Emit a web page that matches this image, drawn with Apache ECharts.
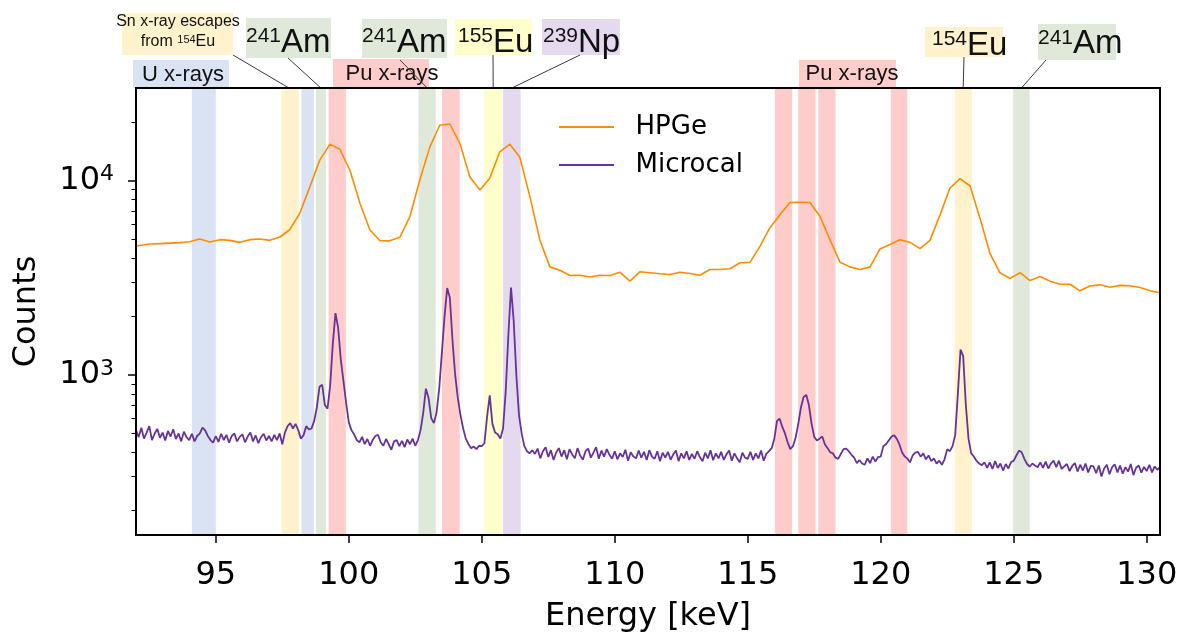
<!DOCTYPE html>
<html>
<head>
<meta charset="utf-8">
<title>HPGe vs Microcal</title>
<script src="https://cdn.jsdelivr.net/npm/echarts@6.0.0/dist/echarts.min.js"></script>
<style>
  html, body { margin: 0; padding: 0; background: #fff; }
  #chart { width: 1179px; height: 634px; }
</style>
</head>
<body>
<div id="chart"></div>
<script>
// values
const hpgeKeV = [
  91.77, 92.14, 92.52, 92.89, 93.27, 93.65, 94.02, 94.40, 94.77, 95.15,
  95.53, 95.90, 96.28, 96.65, 97.03, 97.41, 97.78, 98.16, 98.54, 98.91,
  99.29, 99.66, 100.04, 100.42, 100.79, 101.17, 101.54, 101.92, 102.30, 102.67,
  103.05, 103.42, 103.80, 104.18, 104.55, 104.93, 105.30, 105.68, 106.06, 106.43,
  106.81, 107.18, 107.56, 107.94, 108.31, 108.69, 109.07, 109.44, 109.82, 110.19,
  110.57, 110.95, 111.32, 111.70, 112.07, 112.45, 112.83, 113.20, 113.58, 113.95,
  114.33, 114.71, 115.08, 115.46, 115.83, 116.21, 116.59, 116.96, 117.34, 117.72,
  118.09, 118.47, 118.84, 119.22, 119.60, 119.97, 120.35, 120.72, 121.10, 121.48,
  121.85, 122.23, 122.60, 122.98, 123.36, 123.73, 124.11, 124.48, 124.86, 125.24,
  125.61, 125.99, 126.36, 126.74, 127.12, 127.49, 127.87, 128.25, 128.62, 129.00,
  129.37, 129.75, 130.13, 130.50
]
const hpgeCounts = [
  4550, 4640, 4725, 4740, 4770, 4800, 4850, 5010, 4840, 4970,
  4930, 4815, 4970, 5010, 4930, 5130, 5590, 6810, 9320, 12760,
  15420, 14530, 11350, 7660, 5590, 4910, 4900, 5110, 6540, 10080,
  14930, 19290, 19580, 15540, 10480, 8960, 10290, 14080, 15420, 13200,
  8280, 4970, 3600, 3460, 3250, 3260, 3190, 3260, 3250, 3380,
  3040, 3400, 3360, 3320, 3290, 3380, 3330, 3260, 3490, 3490,
  3520, 3780, 3800, 4590, 5710, 6670, 7720, 7750, 7720, 6540,
  4970, 3800, 3600, 3490, 3600, 4450, 4690, 4970, 4815, 4470,
  4930, 6670, 9140, 10240, 9390, 6420, 4210, 3360, 3140, 3360,
  3060, 3210, 3040, 2930, 2930, 2710, 2870, 2910, 2830, 2890,
  2880, 2820, 2710, 2650
]

// microcal spectrum, 0.1 keV bins starting at 92.0 keV (one row per keV)
const microcalStart = 92.0
const microcalStep = 0.1
const microcalCounts = [
  520, 478, 535, 470, 505, 545, 462, 498, 528, 475,   // 92
  505, 460, 515, 482, 525, 468, 500, 455, 510, 478,   // 93
  462, 498, 455, 485, 500, 535, 518, 485, 462, 448,   // 94
  485, 452, 498, 462, 492, 448, 485, 500, 455, 480,   // 95
  495, 450, 482, 505, 455, 488, 445, 478, 498, 460,   // 96
  485, 455, 492, 462, 500, 440, 505, 545, 565, 530,   // 97
  560, 520, 470, 490, 545, 525, 530, 580, 680, 870,   // 98
  890, 700, 670, 880, 1450, 2080, 1750, 1200, 930, 720, // 99
  570, 520, 495, 462, 450, 480, 440, 468, 432, 462,   // 100
  485, 492, 450, 432, 468, 440, 412, 455, 462, 430,   // 101
  458, 425, 465, 440, 470, 432, 462, 520, 640, 850,   // 102
  760, 600, 565, 640, 850, 1300, 2000, 2800, 2500, 1500, // 103
  1000, 760, 620, 530, 470, 440, 420, 428, 415, 432,  // 104
  430, 445, 610, 785, 560, 505, 495, 470, 530, 820,   // 105
  1600, 2820, 1900, 1000, 620, 500, 430, 405, 395, 410, // 106
  392, 418, 372, 405, 425, 378, 410, 365, 400, 420,   // 107
  380, 410, 368, 415, 390, 372, 420, 385, 366, 405,   // 108
  418, 375, 398, 425, 370, 408, 380, 415, 388, 370,   // 109
  405, 368, 395, 378, 412, 362, 400, 380, 372, 408,   // 110
  375, 402, 365, 410, 380, 370, 405, 360, 398, 375,   // 111
  402, 366, 390, 408, 360, 395, 372, 405, 365, 392,   // 112
  370, 405, 378, 360, 398, 372, 410, 364, 395, 372,   // 113
  402, 365, 390, 408, 362, 395, 372, 355, 398, 375,   // 114
  370, 402, 365, 395, 372, 408, 362, 392, 405, 420,   // 115
  470, 580, 595, 540, 500, 450, 415, 430, 475, 560,   // 116
  680, 770, 790, 700, 560, 480, 460, 470, 482, 440,   // 117
  420, 400, 395, 375, 370, 392, 415, 418, 405, 388,   // 118
  375, 352, 365, 350, 345, 372, 352, 380, 358, 378,   // 119
  380, 430, 440, 460, 480, 490, 470, 440, 400, 380,   // 120
  372, 355, 385, 398, 402, 380, 395, 368, 385, 360,   // 121
  372, 350, 362, 345, 368, 415, 405, 430, 490, 800,   // 122
  1350, 1250, 700, 470, 396, 380, 362, 350, 343, 355, // 123
  332, 355, 328, 360, 332, 350, 322, 348, 330, 356,   // 124
  362, 385, 408, 400, 370, 348, 337, 350, 342, 335,   // 125
  355, 332, 358, 330, 350, 362, 335, 362, 328, 338,   // 126
  348, 320, 340, 352, 318, 345, 322, 350, 315, 340,   // 127
  338, 312, 342, 300, 330, 345, 308, 335, 346, 315,   // 128
  342, 310, 335, 318, 348, 305, 333, 342, 314, 336,   // 129
  320, 345, 315, 338, 325, 335                        // 130
]

const xTicks = [95, 100, 105, 110, 115, 120, 125, 130]
const yMajor = [1000, 10000]
const yMinor = [200, 300, 400, 500, 600, 700, 800, 900,
                2000, 3000, 4000, 5000, 6000, 7000, 8000, 9000, 20000]

// shaded energy bands [from, to, kind]
const bands = [
  [94.10, 95.00, 'U'], [97.47, 98.13, 'Sn'], [98.22, 98.69, 'U'],
  [98.76, 99.14, 'Am'], [99.24, 99.89, 'Pu'], [102.62, 103.27, 'Am'],
  [103.50, 104.17, 'Pu'], [105.09, 105.77, 'Eu155'], [105.80, 106.46, 'Np'],
  [116.02, 116.67, 'Pu'], [116.90, 117.55, 'Pu'], [117.65, 118.30, 'Pu'],
  [120.38, 121.00, 'Pu'], [122.78, 123.42, 'Eu154'], [124.98, 125.60, 'Am']
]

const bandColors = {
  U: '#dae3f3', Sn: '#fff2cc', Am: '#e0e8da', Pu: '#ffcccc',
  Eu155: '#ffffcc', Np: '#e4d9ef', Eu154: '#fff2cc'
}

const xMin = 92, xMax = 130.5
const yMin = 150, yMax = 30000

const grid = { left: 136, top: 88, right: 19, bottom: 99 }
const axisFont = 'DejaVu Sans'
const noteFont = 'Liberation Sans'

const chart = echarts.init(document.getElementById('chart'))

const hpgeData = hpgeKeV.map((e, i) => [e, hpgeCounts[i]])
const microcalData = microcalCounts.map((c, i) => [+(microcalStart + i * microcalStep).toFixed(2), c])

const logMin = Math.log10(yMin)
const logMax = Math.log10(yMax)

const tickLine = { color: '#000', width: 1.5 }

const option = {
  animation: false,
  backgroundColor: '#fff',
  grid: { left: grid.left, top: grid.top, right: grid.right, bottom: grid.bottom, containLabel: false, outerBoundsMode: 'none' },
  legend: {
    data: ['HPGe', 'Microcal'],
    orient: 'vertical',
    left: 554,
    top: 109,
    icon: 'rect',
    itemWidth: 55,
    itemHeight: 2,
    itemGap: 12,
    formatter: name => '  ' + name,
    textStyle: { fontSize: 26, fontFamily: axisFont, color: '#000', lineHeight: 26 }
  },
  xAxis: {
    type: 'value',
    min: xMin,
    max: xMax,
    axisLine: { show: false },
    splitLine: { show: false },
    axisTick: { show: true, customValues: xTicks, length: 8, lineStyle: tickLine },
    axisLabel: { customValues: xTicks, fontSize: 32, fontFamily: axisFont, color: '#000', margin: 25 },
    name: 'Energy [keV]',
    nameLocation: 'middle',
    nameGap: 66,
    nameTextStyle: { fontSize: 32, fontFamily: axisFont, color: '#000' }
  },
  yAxis: [
    {
      type: 'log', logBase: 10, min: yMin, max: yMax, position: 'left',
      axisLine: { show: false }, axisTick: { show: false },
      axisLabel: { show: false }, splitLine: { show: false }
    },
    {
      type: 'value', min: logMin, max: logMax, position: 'left',
      axisLine: { show: false }, splitLine: { show: false },
      axisTick: { show: true, customValues: yMajor.map(Math.log10), length: 8, lineStyle: tickLine },
      axisLabel: {
        customValues: yMajor.map(Math.log10),
        margin: 22,
        formatter: v => '{b|10}{s|' + Math.round(v) + '}',
        rich: {
          b: { fontSize: 32, fontFamily: axisFont, color: '#000', lineHeight: 34 },
          s: { fontSize: 22, fontFamily: axisFont, color: '#000', lineHeight: 22, verticalAlign: 'top' }
        }
      },
      name: 'Counts',
      nameLocation: 'middle',
      nameGap: 93,
      nameTextStyle: { fontSize: 32, fontFamily: axisFont, color: '#000' }
    },
    {
      type: 'value', min: logMin, max: logMax, position: 'left',
      axisLine: { show: false }, splitLine: { show: false },
      axisTick: { show: true, customValues: yMinor.map(Math.log10), length: 4.5, lineStyle: { color: '#000', width: 1 } },
      axisLabel: { show: false }
    }
  ],
  series: [
    {
      name: 'HPGe',
      type: 'line',
      data: hpgeData,
      yAxisIndex: 0,
      symbol: 'none',
      z: 3,
      color: '#ff8c00',
      lineStyle: { color: '#ff8c00', width: 1.6 },
      markArea: {
        silent: true,
        label: { show: false },
        itemStyle: { opacity: 1 },
        data: bands.map(b => [{ xAxis: b[0], itemStyle: { color: bandColors[b[2]] } }, { xAxis: b[1] }])
      }
    },
    {
      name: 'Microcal',
      type: 'line',
      data: microcalData,
      yAxisIndex: 0,
      symbol: 'none',
      z: 4,
      color: '#663399',
      lineStyle: { color: '#663399', width: 1.8 }
    }
  ]
}

chart.setOption(option)

// annotation boxes above the plot
const ink = '#111'
function box(x, y, w, h, fill) {
  return { type: 'rect', shape: { x: x, y: y, width: w, height: h }, style: { fill: fill }, z: 10 }
}
function plain(text, x, y, size) {
  return {
    type: 'text', z: 12,
    style: { text: text, x: x, y: y, fontSize: size, fontFamily: noteFont, fill: ink, align: 'center', verticalAlign: 'middle' }
  }
}
function isotope(sup, main, x, y) {
  return {
    type: 'text', z: 12,
    style: {
      text: '{s|' + sup + '}{m|' + main + '}', x: x, y: y, align: 'left', verticalAlign: 'top',
      rich: {
        s: { fontSize: 21, fontFamily: noteFont, fill: ink, lineHeight: 21, verticalAlign: 'top' },
        m: { fontSize: 33, fontFamily: noteFont, fill: ink, lineHeight: 33 }
      }
    }
  }
}
function leader(x0, y0, keV) {
  const x1 = chart.convertToPixel({ xAxisIndex: 0 }, keV)
  return {
    type: 'line', z: 14,
    shape: { x1: x0, y1: y0, x2: x1, y2: grid.top },
    style: { stroke: '#3a3a3a', lineWidth: 1 }
  }
}

const graphic = [
  box(122, 13, 111, 42, bandColors.Sn),
  plain('Sn x-ray escapes', 178, 22, 16),
  {
    type: 'text', z: 12,
    style: {
      text: '{n|from }{s|154}{n|Eu}', x: 178, y: 42, align: 'center', verticalAlign: 'middle',
      rich: {
        n: { fontSize: 16, fontFamily: noteFont, fill: ink, lineHeight: 16 },
        s: { fontSize: 11, fontFamily: noteFont, fill: ink, lineHeight: 11, verticalAlign: 'top' }
      }
    }
  },
  box(246, 18, 85, 40, bandColors.Am),
  isotope('241', 'Am', 246, 26),
  box(133, 60, 96, 28, bandColors.U),
  plain('U x-rays', 183, 74.5, 22),
  box(362, 19, 85, 39, bandColors.Am),
  isotope('241', 'Am', 362, 26),
  box(333, 59, 96, 29, bandColors.Pu),
  plain('Pu x-rays', 392, 74, 22),
  box(455, 19, 77, 36, bandColors.Eu155),
  isotope('155', 'Eu', 458, 26),
  box(542, 19, 78, 36, bandColors.Np),
  isotope('239', 'Np', 543, 26),
  box(799, 60, 97, 28, bandColors.Pu),
  plain('Pu x-rays', 852, 73.5, 22),
  box(925, 27, 78, 30, bandColors.Eu154),
  isotope('154', 'Eu', 932, 29),
  box(1038, 24, 78, 36, bandColors.Am),
  isotope('241', 'Am', 1038, 27.5),
  leader(233, 55, 97.75),
  leader(288, 58, 98.95),
  leader(400, 60, 102.95),
  leader(493, 55, 105.43),
  leader(580, 55, 106.13),
  leader(964, 57, 123.1),
  leader(1046, 60, 125.29),
  {
    type: 'rect', z: 20,
    shape: { x: grid.left, y: grid.top, width: 1179 - grid.left - grid.right, height: 634 - grid.top - grid.bottom },
    style: { fill: 'none', stroke: '#000', lineWidth: 2 }
  }
]

chart.setOption({ graphic: graphic })
</script>
</body>
</html>
